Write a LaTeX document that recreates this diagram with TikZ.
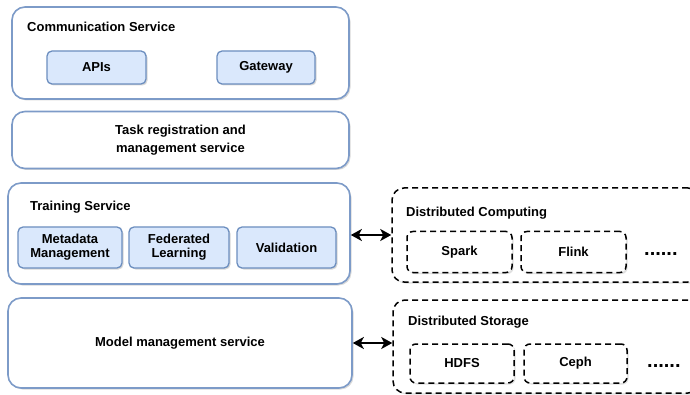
\documentclass[tikz,border=0pt]{standalone}
\usepackage{fontspec}
\setmainfont{Liberation Sans}
\usetikzlibrary{arrows.meta,shadows}
\definecolor{outerblue}{HTML}{7D9BC8}
\definecolor{innerblue}{HTML}{6C8EBF}
\definecolor{innerfill}{HTML}{DAE8FC}
\tikzset{
  lbl/.style={font=\fontsize{13}{15}\selectfont\bfseries, inner sep=0pt},
  dotlbl/.style={font=\fontsize{20}{20}\selectfont\bfseries, inner sep=0pt},
  outerbox/.style={draw=outerblue, line width=1.6pt, fill=white, rounded corners=13pt,
    drop shadow={shadow xshift=1.5pt, shadow yshift=-1.5pt, opacity=0.25, fill=black!60},
    inner sep=0pt},
  innerbox/.style={draw=innerblue, line width=1.3pt, fill=innerfill, rounded corners=5pt,
    drop shadow={shadow xshift=1.5pt, shadow yshift=-1.5pt, opacity=0.25, fill=black!60},
    inner sep=0pt, align=center, font=\fontsize{13}{15}\selectfont\bfseries},
  dashbox/.style={draw=black, dash pattern=on 6pt off 4pt, line width=1.5pt, fill=white, rounded corners=12pt,
    drop shadow={shadow xshift=1.5pt, shadow yshift=-1.5pt, opacity=0.2, fill=black!60},
    inner sep=0pt},
  dashinner/.style={draw=black, dash pattern=on 6pt off 4pt, line width=1.5pt, fill=white, rounded corners=6pt,
    drop shadow={shadow xshift=1.5pt, shadow yshift=-1.5pt, opacity=0.2, fill=black!60},
    inner sep=0pt, font=\fontsize{13}{15}\selectfont\bfseries},
  biarrow/.style={{Stealth[length=11pt,width=12pt,inset=3pt]}-{Stealth[length=11pt,width=12pt,inset=3pt]}, line width=2.2pt, black},
}
\begin{document}
\begin{tikzpicture}[x=1pt,y=-1pt]
\useasboundingbox (0,0) rectangle (690,395);
\clip (0,0) rectangle (690,395);

% Communication Service
\node[outerbox, minimum width=337pt, minimum height=92pt] (comm) at (180.5,53) {};
\node[lbl, anchor=west] (commlbl) at (27,27) {Communication Service};
\node[innerbox, minimum width=99pt, minimum height=33pt] (apis) at (96.5,67.5) {APIs};
\node[innerbox, minimum width=98pt, minimum height=33pt] (gw) at (266,67.5) {Gateway};

% Task registration
\node[outerbox, minimum width=337pt, minimum height=57pt, align=center,
      font=\fontsize{13}{18}\selectfont\bfseries] (task) at (180.5,140) {Task registration and\\ management service};

% Training Service
\node[outerbox, minimum width=342pt, minimum height=101pt] (train) at (179,233.5) {};
\node[lbl, anchor=west] (trainlbl) at (30,207) {Training Service};
\node[innerbox, minimum width=104pt, minimum height=41pt] (meta) at (70,247.5) {Metadata\\[-1pt]Management};
\node[innerbox, minimum width=100pt, minimum height=41pt] (fed) at (179,247.5) {Federated\\[-1pt]Learning};
\node[innerbox, minimum width=99pt, minimum height=41pt] (val) at (286.5,247.5) {Validation};

% Model management
\node[outerbox, minimum width=344pt, minimum height=90pt, font=\fontsize{13}{15}\selectfont\bfseries] (model) at (180,343) {Model management service};

% Distributed Computing
\node[dashbox, minimum width=308pt, minimum height=94pt] (dc) at (546,235) {};
\node[lbl, anchor=west] (dclbl) at (406,213) {Distributed Computing};
\node[dashinner, minimum width=105pt, minimum height=41pt] (spark) at (459.5,252) {Spark};
\node[dashinner, minimum width=105pt, minimum height=41pt] (flink) at (573.5,252) {Flink};
\node[dotlbl, anchor=west] (dcdots) at (644,254) {......};

% Distributed Storage
\node[dashbox, minimum width=307pt, minimum height=93pt] (ds) at (546.5,346.5) {};
\node[lbl, anchor=west] (dslbl) at (408,322) {Distributed Storage};
\node[dashinner, minimum width=104pt, minimum height=39pt] (hdfs) at (462,363.5) {HDFS};
\node[dashinner, minimum width=103pt, minimum height=39pt] (ceph) at (575.5,363.5) {Ceph};
\node[dotlbl, anchor=west] (dsdots) at (647,366) {......};

% Arrows
\draw[biarrow] (dc.west -| train.east) -- (dc.west);
\draw[biarrow] (model.east) -- (model.east -| ds.west);
\end{tikzpicture}
\end{document}
